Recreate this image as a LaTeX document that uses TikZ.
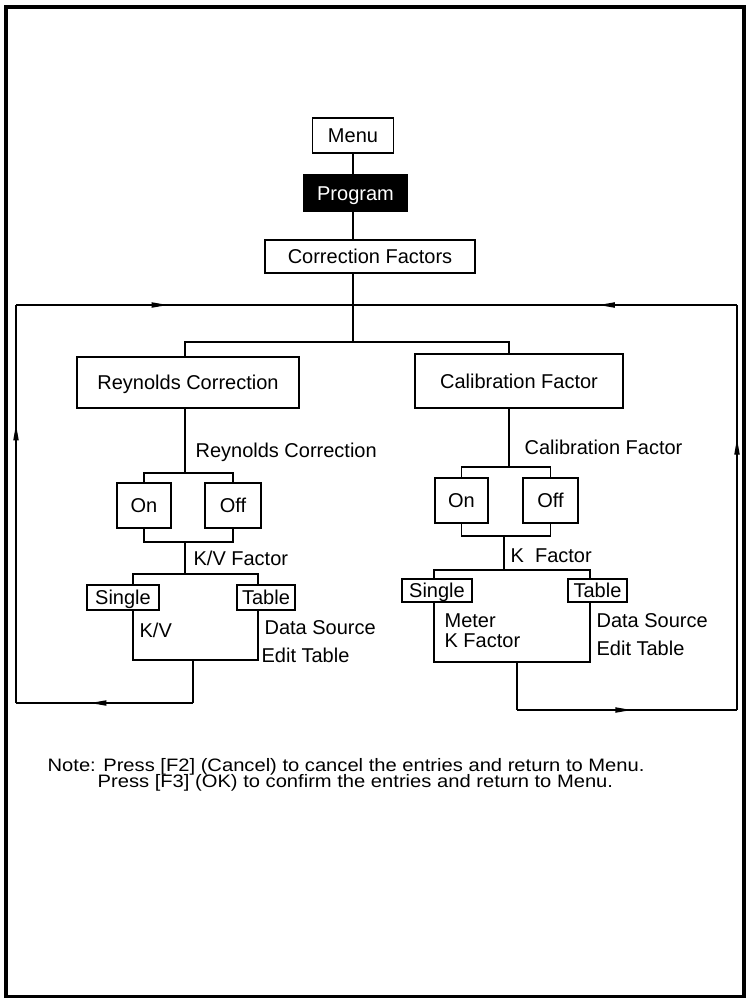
\documentclass[tikz,border=0pt]{standalone}
\usepackage{fontspec}
\setmainfont{Liberation Sans}
\usetikzlibrary{arrows.meta,decorations.markings}

\begin{document}
\begin{tikzpicture}[x=0.5pt,y=-0.5pt,line width=0.6pt,
  box/.style={draw,fill=white,inner sep=0pt,text height=7.2pt,text depth=0pt,
    font=\fontsize{10}{12}\selectfont},
  hilite/.style={box,fill=black,text=white},
  lbl/.style={inner sep=0pt,anchor=base west,font=\fontsize{10}{12}\selectfont},
  notetext/.style={inner sep=0pt,anchor=base west,xscale=1.12,font=\fontsize{9}{11}\selectfont},
  tipat/.style={postaction={decorate},decoration={markings,
    mark=at position #1 with {\arrow{Triangle[length=8pt,width=2.6pt]}}}}]

\useasboundingbox (0,0) rectangle (746,998);
\draw[line width=2pt] (6,7) rectangle (744,996.5);

% top of the tree
\node[box,minimum width=40.5pt,minimum height=17.5pt] (menu) at (353,135.5) {Menu};
\node[hilite,minimum width=51.5pt,minimum height=18pt] (prog) at (355.5,193) {Program};
\node[box,minimum width=105pt,minimum height=16.5pt] (cf) at (370,256.5) {Correction Factors};

\coordinate (top) at (353,305);
\coordinate (split) at (353,342);

\draw (menu.south) -- (prog.north -| menu.south);
\draw (prog.south -| menu.south) -- (cf.north -| menu.south);
\draw (cf.south -| menu.south) -- (split);

% left branch
\node[box,minimum width=111pt,minimum height=25.5pt] (rc) at (188,382.5) {Reynolds Correction};
\node[lbl] (rclbl) at (195,457) {Reynolds Correction};
\node[box,minimum width=27pt,minimum height=22.5pt] (on1) at (144,505.5) {On};
\node[box,minimum width=28pt,minimum height=22.5pt] (off1) at (233,505.5) {Off};
\node[lbl] (kvf) at (193,565) {K/V Factor};

\coordinate (rtop) at (185,342);
\coordinate (rsel) at (185,473);
\coordinate (rjoin) at (185,542);
\coordinate (rsplit) at (185,574);
\coordinate (sl1) at (133,574);
\coordinate (tl1) at (258,574);
\coordinate (sb1) at (133,660);
\coordinate (tb1) at (258,660);
\coordinate (lout) at (193,660);
\coordinate (lend) at (193,703);

\draw (sl1) -- (sb1) -- (tb1) -- (tl1) -- cycle;
\node[box,minimum width=36pt,minimum height=12.5pt] (single1) at (123,597.5) {Single};
\node[box,minimum width=29pt,minimum height=12.5pt] (table1) at (266,597.5) {Table};
\node[lbl] (kv) at (139,637) {K/V};
\node[lbl] (ds1) at (264,634) {Data Source};
\node[lbl] (et1) at (261,662) {Edit Table};

\draw (split) -- (rtop) -- (rc.north -| rtop);
\draw (rc.south -| rtop) -- (rsel);
\draw (on1.north) |- (rsel) -| (off1.north);
\draw (on1.south) |- (rjoin) -| (off1.south);
\draw (rjoin) -- (rsplit);
\draw (lout) -- (lend);

% right branch
\node[box,minimum width=104pt,minimum height=27pt] (cal) at (519,381) {Calibration Factor};
\node[lbl] (callbl) at (524,454) {Calibration Factor};
\node[box,minimum width=26.5pt,minimum height=22.5pt] (on2) at (461.5,500.5) {On};
\node[box,minimum width=27.5pt,minimum height=22.5pt] (off2) at (550.5,500.5) {Off};
\node[lbl] (kf) at (510,562) {K\ \ Factor};

\coordinate (ctop) at (509,342);
\coordinate (csel) at (509,467);
\coordinate (cjoin) at (504,536);
\coordinate (csplit) at (504,570);
\coordinate (sl2) at (434,570);
\coordinate (tl2) at (590,570);
\coordinate (sb2) at (434,662);
\coordinate (tb2) at (590,662);
\coordinate (rout) at (517,662);
\coordinate (rend) at (517,710);

\draw (sl2) -- (sb2) -- (tb2) -- (tl2) -- cycle;
\node[box,minimum width=35pt,minimum height=11.5pt] (single2) at (437,590.5) {Single};
\node[box,minimum width=29.5pt,minimum height=11.5pt] (table2) at (597.5,590.5) {Table};
\node[lbl] (meter) at (444,627) {Meter};
\node[lbl] (kfac) at (444,647) {K Factor};
\node[lbl] (ds2) at (596,627) {Data Source};
\node[lbl] (et2) at (596,655) {Edit Table};

\draw (split) -- (ctop) -- (cal.north -| ctop);
\draw (cal.south -| ctop) -- (csel);
\draw (on2.north) |- (csel) -| (off2.north);
\draw (on2.south) |- (cjoin) -| (off2.south);
\draw (cjoin) -- (csplit);
\draw (rout) -- (rend);

% return loop
\coordinate (tl) at (16,305);
\coordinate (tr) at (737,305);
\coordinate (bl) at (16,703);
\coordinate (br) at (737,710);

\draw[tipat=0.58] (lend) -- (bl);
\draw[tipat=0.70] (bl) -- (tl);
\draw[tipat=0.45] (tl) -- (top);
\draw[tipat=0.52] (rend) -- (br);
\draw[tipat=0.67] (br) -- (tr);
\draw[tipat=0.36] (tr) -- (top);
\draw (top) -- (split);

% note
\node[notetext] (note1) at (47,771) {Note: Press [F2] (Cancel) to cancel the entries and return to Menu.};
\node[notetext] (note2) at (97,787) {Press [F3] (OK) to confirm the entries and return to Menu.};

\end{tikzpicture}
\end{document}
